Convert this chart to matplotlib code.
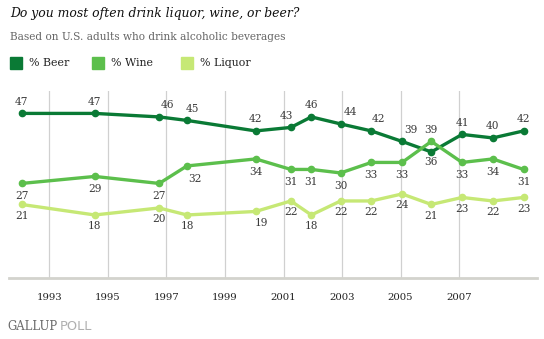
import matplotlib
matplotlib.use("Agg")
import matplotlib.pyplot as plt

# ---- data ----
years = [1992.05, 1994.55, 1996.75, 1997.7, 2000.05, 2001.25, 2001.95,
         2002.95, 2004.0, 2005.05, 2006.05, 2007.1, 2008.15, 2009.2]
beer = [47, 47, 46, 45, 42, 43, 46, 44, 42, 39, 36, 41, 40, 42]
wine = [27, 29, 27, 32, 34, 31, 31, 30, 33, 33, 39, 33, 34, 31]
liquor = [21, 18, 20, 18, 19, 22, 18, 22, 22, 24, 21, 23, 22, 23]
tick_years = [1993, 1995, 1997, 1999, 2001, 2003, 2005, 2007]
series_names = ["% Beer", "% Wine", "% Liquor"]

title = "Do you most often drink liquor, wine, or beer?"
subtitle = "Based on U.S. adults who drink alcoholic beverages"

# ---- style ----
W, H = 544, 339
colors = ["#0a7a35", "#5cbf4c", "#c6e875"]
SERIF = "DejaVu Serif"
txt_color = "#3a3a3a"

fig = plt.figure(figsize=(W / 100, H / 100), dpi=100)

def fx(px):
    return px / W

def fy(py):
    return 1 - py / H

ax_left, ax_right, ax_top, ax_bottom = 9, 537, 91, 278
ax = fig.add_axes([fx(ax_left), fy(ax_bottom), fx(ax_right - ax_left), (ax_bottom - ax_top) / H])
ax.set_xlim(1991.62, 2009.66)
ax.set_ylim(0, 53.4)

for s in ["top", "right", "left"]:
    ax.spines[s].set_visible(False)
ax.spines["bottom"].set_color("#d3d3cd")
ax.spines["bottom"].set_linewidth(2)
ax.set_yticks([])
ax.set_xticks(tick_years)
ax.set_xticklabels([str(y) for y in tick_years], family=SERIF, fontsize=7.3, color="#222222")
ax.tick_params(axis="x", length=0, pad=11)
for ty in tick_years:
    ax.axvline(ty, color="#d0d0d0", lw=0.9, zorder=0)

all_series = [beer, wine, liquor]
for vals, c in zip(all_series, colors):
    ax.plot(years, vals, color=c, lw=2.4, marker="o", ms=4.5, mec=c, mfc=c,
            zorder=3, solid_capstyle="round")

# label placement (pixel offsets: default above for beer, below for others)
def offsets(series_idx):
    if series_idx == 0:
        return 0, 11.5
    if series_idx == 1:
        return 0, -12.7
    return 0, -11.3

beer_dx = {2: 8.5, 3: 5.4, 5: -4.3, 7: 9.7, 8: 7, 9: 8.7}
for idx, vals in enumerate(all_series):
    for i, (x, v) in enumerate(zip(years, vals)):
        dx, dy = offsets(idx)
        if idx == 0:
            dx = beer_dx.get(i, 0)
            if i == 10:
                dy = -10.5
        if idx == 1:
            if i == 3:
                dx = 7.7
            if i == 10:
                dy = 11
        if idx == 2 and i == 4:
            dx = 5.3
        ax.annotate(str(v), (x, v), xytext=(dx, dy), textcoords="offset pixels",
                    ha="center", va="center", family=SERIF, fontsize=7.6,
                    color=txt_color, zorder=4)

# title & subtitle
fig.text(fx(10), fy(14), title, family=SERIF, style="italic", fontsize=8.9,
         color="#111111", va="center", ha="left")
fig.text(fx(10), fy(37), subtitle, family=SERIF, fontsize=7.6,
         color="#666666", va="center", ha="left")

# legend
leg_x = [10, 92, 181]
for lx, name, c in zip(leg_x, series_names, colors):
    fig.patches.append(plt.Rectangle((fx(lx), fy(69)), fx(12), 12 / H,
                                     transform=fig.transFigure, color=c))
    fig.text(fx(lx + 19), fy(63), name, family=SERIF, fontsize=7.9,
             color="#222222", va="center", ha="left")

# footer
fig.text(fx(7), fy(327), "GALLUP", family=SERIF, fontsize=8.4,
         color="#6a6a6a", va="center", ha="left")
fig.text(fx(60), fy(327), "POLL", family="DejaVu Sans", fontsize=9.4,
         color="#b0b0b0", va="center", ha="left")

fig.savefig("out.png", dpi=100)
